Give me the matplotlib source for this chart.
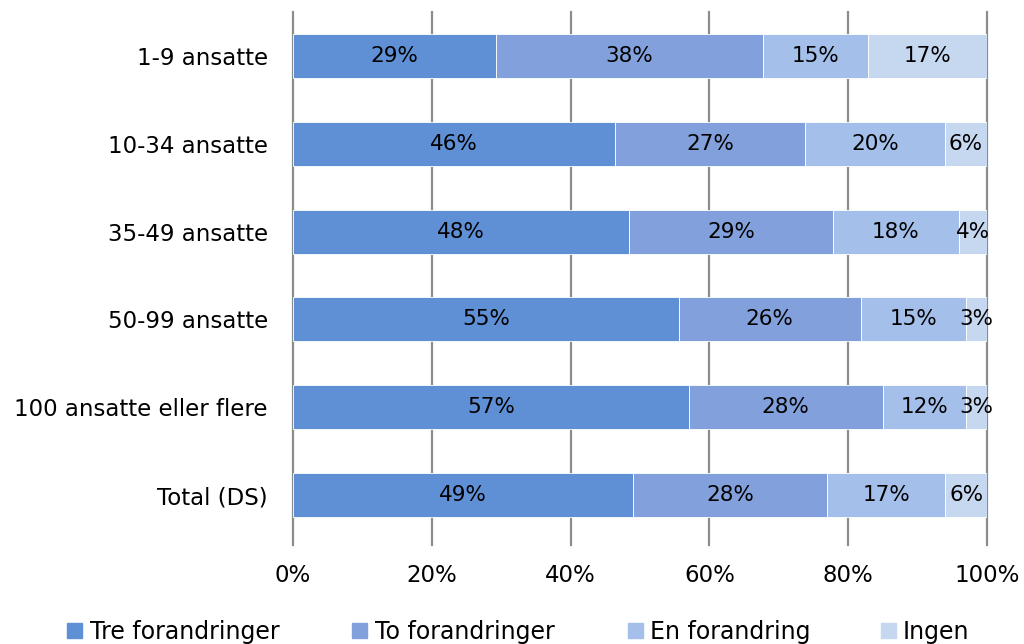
import matplotlib
matplotlib.use("Agg")
import matplotlib.pyplot as plt
import numpy as np

categories = ["1-9 ansatte", "10-34 ansatte", "35-49 ansatte", "50-99 ansatte",
              "100 ansatte eller flere", "Total (DS)"]
series_names = ["Tre forandringer", "To forandringer", "En forandring", "Ingen"]
tre = [29, 46, 48, 55, 57, 49]
to = [38, 27, 29, 26, 28, 28]
en = [15, 20, 18, 15, 12, 17]
ingen = [17, 6, 4, 3, 3, 6]
colors = ["#5F8FD4", "#82A1DC", "#A3BFEA", "#C6D7F0"]
xticks = [0, 20, 40, 60, 80, 100]

plt.rcParams['font.family'] = ['DejaVu Sans']
W, H = 1024, 644
fig = plt.figure(figsize=(W / 100, H / 100), dpi=100)
ax = fig.add_axes([293/W, 1-539/H, 694/W, 527/H])

data = np.array([tre, to, en, ingen], dtype=float)
totals = data.sum(axis=0)
pct = data / totals * 100
y = np.arange(len(categories))
left = np.zeros(len(categories))
for i, name in enumerate(series_names):
    ax.barh(y, pct[i], left=left, height=0.5, color=colors[i],
            edgecolor="white", linewidth=0.6, label=name, zorder=3)
    for j in range(len(categories)):
        ax.text(left[j] + pct[i][j] / 2, y[j], f"{int(data[i][j])}%",
                ha="center", va="center", fontsize=15.5, color="black", zorder=4)
    left += pct[i]

ax.set_xlim(0, 100)
ax.set_ylim(len(categories) - 0.5, -0.5)
ax.set_yticks(y)
ax.set_yticklabels(categories, fontsize=16.5)
ax.set_xticks(xticks)
ax.set_xticklabels([f"{t}%" for t in xticks], fontsize=16.5)
ax.tick_params(axis="y", length=0, pad=18)
ax.tick_params(axis="x", length=0, pad=18)
for s in ax.spines.values():
    s.set_visible(False)
for t in xticks:
    ax.axvline(t, color="#8C8C8C", linewidth=1.6, zorder=1, ymin=-0.012, clip_on=False)

# legend (manually positioned entries)
sq_x = [67, 352, 628, 881]
txt_x = [90, 375, 650, 903]
for i, name in enumerate(series_names):
    fig.patches.append(plt.Rectangle((sq_x[i] / W, 1 - 638 / H), 15 / W, 15 / H,
                                     transform=fig.transFigure, color=colors[i],
                                     figure=fig))
    fig.text(txt_x[i] / W, 1 - 639 / H, name, fontsize=17, ha="left", va="baseline")

fig.savefig("out.png", dpi=100)
